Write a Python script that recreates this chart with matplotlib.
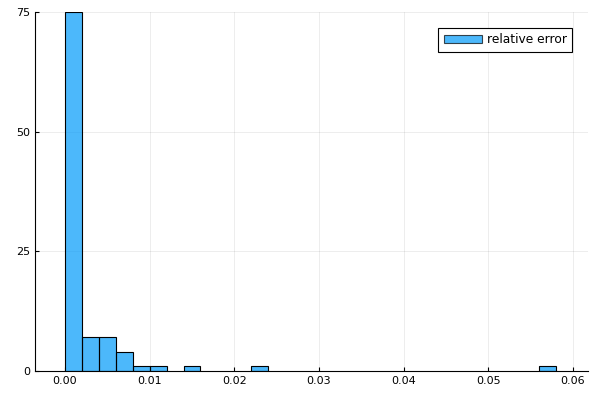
import numpy as np
import matplotlib
matplotlib.use('Agg')
import matplotlib.pyplot as plt

# histogram of relative error, bin width 0.002
bin_left = [0.000, 0.002, 0.004, 0.006, 0.008, 0.010, 0.014, 0.022, 0.056]
counts = [75, 7, 7, 4, 1, 1, 1, 1, 1]
bin_width = 0.002
x_ticks = [0.00, 0.01, 0.02, 0.03, 0.04, 0.05, 0.06]
y_ticks = [0, 25, 50, 75]

fig = plt.figure(figsize=(6, 4), dpi=100)
ax = fig.add_axes([35/600, 29/400, 553/600, 359/400])

ax.bar(bin_left, counts, width=bin_width, align='edge', color='#009AFA', alpha=0.7,
       edgecolor='none', label='relative error')
ax.bar(bin_left, counts, width=bin_width, align='edge', facecolor='none',
       edgecolor='black', linewidth=0.8)

ax.set_xlim(-0.00354, 0.06177)
ax.set_ylim(0, 75)
ax.set_xticks(x_ticks)
ax.set_xticklabels([f'{t:.2f}' for t in x_ticks])
ax.set_yticks(y_ticks)
ax.grid(True, color='black', alpha=0.1, linewidth=0.5)
ax.set_axisbelow(True)
for s in ['top', 'right']:
    ax.spines[s].set_visible(False)
ax.tick_params(direction='in', length=3, labelsize=8, width=0.8)

leg = ax.legend(loc='upper right', fontsize=8.8, fancybox=False, framealpha=1,
                edgecolor='black', borderaxespad=1.3, handlelength=3.1,
                handletextpad=0.4, borderpad=0.45)
leg.get_frame().set_linewidth(0.8)
leg.legend_handles[0].set_edgecolor('black')
leg.legend_handles[0].set_linewidth(0.8)

fig.savefig('out.png', dpi=100)
